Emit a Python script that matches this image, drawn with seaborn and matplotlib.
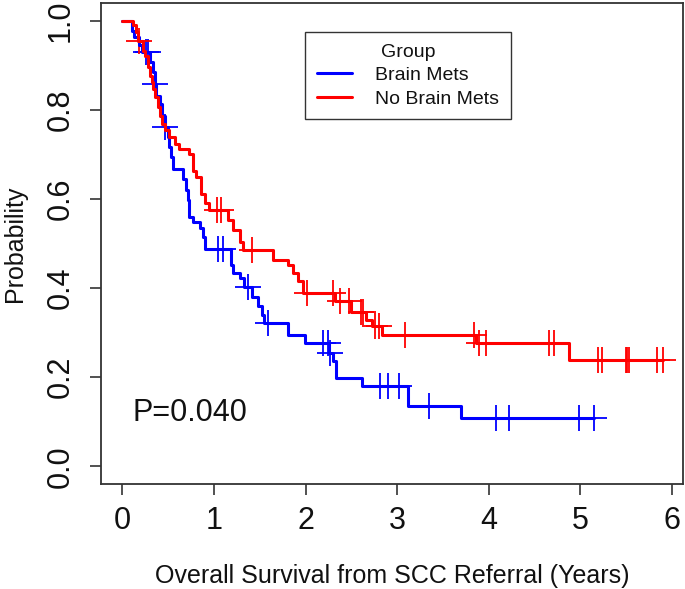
import numpy as np
import pandas as pd
import matplotlib
matplotlib.use("Agg")
import matplotlib.pyplot as plt
import seaborn as sns

sns.set_style("ticks")
plt.rcParams["font.family"] = ["Liberation Sans", "DejaVu Sans"]
plt.rcParams["text.color"] = "#111111"
plt.rcParams["axes.labelcolor"] = "#111111"
plt.rcParams["xtick.color"] = "#111111"
plt.rcParams["ytick.color"] = "#111111"

# ---- Kaplan-Meier curves ---- #
groups = ["Brain Mets", "No Brain Mets"]
colors = ["#0000FF", "#FF0000"]

# Brain Mets: drop times and survival after each drop
bm_times = [0.10, 0.13, 0.18, 0.21, 0.30, 0.33, 0.35, 0.37, 0.41, 0.43, 0.46, 0.50,
            0.51, 0.53, 0.55, 0.66, 0.69, 0.71, 0.73, 0.77, 0.85, 0.88, 0.90, 1.19, 1.21,
            1.28, 1.33, 1.41, 1.48, 1.52, 1.55, 1.81, 1.99, 2.26, 2.30, 2.33, 2.61,
            3.12, 3.70]
bm_surv = [0.978, 0.963, 0.945, 0.929, 0.907, 0.884, 0.858, 0.832, 0.814, 0.787, 0.761, 0.739,
           0.717, 0.694, 0.668, 0.645, 0.620, 0.597, 0.560, 0.549, 0.535, 0.515, 0.487, 0.452, 0.433,
           0.422, 0.403, 0.381, 0.359, 0.340, 0.322, 0.295, 0.277, 0.254, 0.236, 0.198, 0.180,
           0.135, 0.109]
bm_censor = [0.26, 0.28, 0.35, 0.46, 1.04, 1.10, 1.37, 1.59, 2.19, 2.24, 2.27, 2.81,
             2.90, 3.02, 3.35, 4.08, 4.22, 4.99, 5.15]
bm_end = 5.15

# No Brain Mets
nb_times = [0.12, 0.15, 0.17, 0.22, 0.25, 0.28, 0.30, 0.32, 0.33, 0.35, 0.39, 0.41,
            0.43, 0.46, 0.51, 0.57, 0.62, 0.73, 0.77, 0.80, 0.86, 0.90, 0.95, 1.15,
            1.21, 1.28, 1.32, 1.64, 1.81, 1.86, 1.92, 1.97, 2.32, 2.50, 2.66, 2.72,
            2.83, 3.86, 4.88]
nb_surv = [0.990, 0.974, 0.955, 0.933, 0.920, 0.896, 0.877, 0.862, 0.847, 0.828, 0.806, 0.787,
           0.769, 0.754, 0.739, 0.724, 0.713, 0.701, 0.662, 0.650, 0.612, 0.590, 0.576, 0.553,
           0.530, 0.504, 0.485, 0.463, 0.452, 0.433, 0.415, 0.389, 0.370, 0.347, 0.329, 0.314,
           0.295, 0.277, 0.239]
nb_censor = [0.18, 1.03, 1.08, 1.41, 2.02, 2.30, 2.37, 2.47, 2.60, 2.63, 2.76, 2.80,
             3.08, 3.84, 3.89, 3.97, 4.66, 4.71, 5.19, 5.24, 5.50, 5.51, 5.53, 5.84, 5.90]
nb_end = 5.90

p_text = "P=0.040"


def curve_frame(name, times, surv, end):
    t = [0.0] + times + [end]
    s = [1.0] + surv + [surv[-1]]
    return pd.DataFrame({"time": t, "surv": s, "Group": name})


def censor_frame(name, times, surv, censor):
    t = np.array([0.0] + times)
    s = np.array([1.0] + surv)
    idx = np.searchsorted(t, censor, side="right") - 1
    return pd.DataFrame({"time": censor, "surv": s[idx], "Group": name})


curves = pd.concat([curve_frame(groups[0], bm_times, bm_surv, bm_end),
                    curve_frame(groups[1], nb_times, nb_surv, nb_end)], ignore_index=True)
marks = pd.concat([censor_frame(groups[0], bm_times, bm_surv, bm_censor),
                   censor_frame(groups[1], nb_times, nb_surv, nb_censor)], ignore_index=True)
palette = dict(zip(groups, colors))

fig = plt.figure(figsize=(6.85, 5.89), dpi=100)
ax = fig.add_axes([0.1474, 0.178, 0.8496, 0.817])

sns.lineplot(data=curves, x="time", y="surv", hue="Group", palette=palette,
             drawstyle="steps-post", estimator=None, sort=False, linewidth=2.2, ax=ax)
sns.scatterplot(data=marks, x="time", y="surv", hue="Group", palette=palette,
                marker="+", s=350, linewidth=1.3, legend=False, ax=ax)

ax.set_xlim(-0.235, 6.12)
ax.set_ylim(-0.040, 1.040)
ax.set_xticks(range(0, 7))
ax.set_yticks([0.0, 0.2, 0.4, 0.6, 0.8, 1.0])
ax.set_yticklabels(["0.0", "0.2", "0.4", "0.6", "0.8", "1.0"], rotation=90, va="center")
ax.tick_params(axis="both", labelsize=22, length=8, width=1.2, color="#333333")
ax.tick_params(axis="x", pad=8)
ax.tick_params(axis="y", pad=10)
for sp in ax.spines.values():
    sp.set_linewidth(1.3)
    sp.set_color("#333333")

ax.set_xlabel("Overall Survival from SCC Referral (Years)", fontsize=18, labelpad=20)
ax.set_ylabel("Probability", fontsize=18, labelpad=14)

ax.text(0.11, 0.12, p_text, fontsize=22, va="center", ha="left")

handles, labels = ax.get_legend_handles_labels()
leg = ax.legend(handles, labels, title="Group", loc="upper left",
                bbox_to_anchor=(0.3505, 0.9397), borderaxespad=0, fontsize=14,
                title_fontsize=14, frameon=True, fancybox=False, edgecolor="black",
                handlelength=1.8, handletextpad=1.2, labelspacing=0.3, borderpad=0.6)
leg.get_frame().set_linewidth(1.0)

fig.savefig("out.png", dpi=100)
